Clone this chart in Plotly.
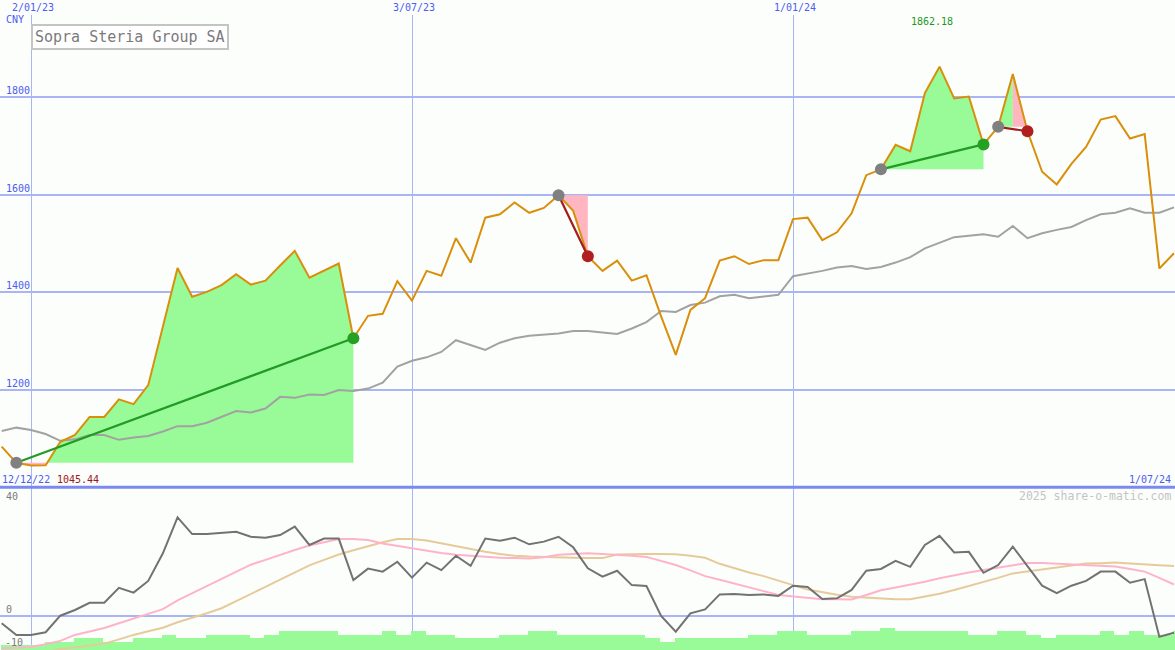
import pandas as pd
import plotly.graph_objects as go

# ---------------- data ----------------
dates = pd.date_range("2022-12-19", periods=81, freq="7D")

price = [1084, 1051, 1045.44, 1046, 1094, 1108, 1145, 1145, 1181, 1171,
         1210, 1330, 1450, 1391, 1401, 1415, 1437, 1416, 1424, 1455,
         1485, 1430, 1445, 1459, 1306, 1352, 1356, 1423, 1383, 1444,
         1434, 1511, 1461, 1553, 1560, 1584, 1563, 1573, 1599, 1567,
         1474, 1444, 1465, 1424, 1435, 1351, 1272, 1364, 1388, 1465,
         1474, 1458, 1466, 1466, 1550, 1553, 1507, 1523, 1562, 1640,
         1652, 1702, 1689, 1808, 1862.18, 1797, 1801, 1703, 1739, 1847,
         1730, 1647, 1621, 1663, 1698, 1754, 1761, 1715, 1724, 1449,
         1480]

moving_avg = [1116, 1123, 1118, 1110, 1096, 1099, 1108, 1108, 1098, 1103,
              1106, 1115, 1126, 1126, 1133, 1145, 1157, 1154, 1162, 1186,
              1184, 1191, 1190, 1200, 1198, 1203, 1215, 1248, 1260, 1267,
              1278, 1302, 1292, 1282, 1297, 1306, 1311, 1313, 1316, 1321,
              1321, 1318, 1315, 1326, 1339, 1362, 1360, 1374, 1379, 1392,
              1395, 1388, 1391, 1395, 1433, 1438, 1444, 1451, 1454, 1448,
              1452, 1461, 1472, 1490, 1502, 1513, 1516, 1519, 1514, 1536,
              1511, 1521, 1528, 1534, 1548, 1560, 1563, 1572, 1563, 1563,
              1574]

momentum = [-2.5, -6.4, -6.4, -5.5, 0, 1.9, 4.3, 4.3, 9.3, 7.7,
            11.6, 20.8, 32.8, 27.2, 27.2, 27.7, 28, 26.3, 26, 26.9,
            29.7, 23.6, 25.7, 25.7, 11.9, 15.7, 14.7, 18, 12.7, 17.7,
            15.2, 20, 16.6, 25.7, 25, 26, 23.8, 24.7, 26.3, 22.8,
            15.8, 13, 15, 10.2, 9.9, -0.1, -5.3, 0.8, 2.1, 7.1,
            7.2, 6.9, 7.1, 6.6, 10, 9.6, 5.6, 5.8, 8.6, 15,
            15.6, 18.3, 16.3, 23.6, 26.6, 21.1, 21.3, 14.3, 16.9, 23,
            16.6, 10, 7.5, 10, 11.6, 14.7, 14.7, 11, 12.2, -7,
            -5.7]

signal_fast = [-10.9, -10.7, -10.4, -9.5, -8.4, -6.4, -5.2, -4.1, -2.5, -0.9,
               0.6, 2.2, 5.1, 7.5, 9.7, 12.1, 14.7, 17.0, 18.6, 20.3,
               21.9, 23.4, 24.6, 25.6, 25.6, 25.2, 24.1, 23.3, 22.5, 21.6,
               20.9, 20.3, 19.9, 19.5, 19.3, 19.2, 19.1, 19.5, 20.3, 20.6,
               20.8, 20.6, 20.4, 20.0, 19.6, 18.2, 16.9, 15.1, 13.2, 12.0,
               10.8, 9.6, 8.2, 6.9, 6.4, 5.9, 5.5, 5.5, 5.4, 6.9,
               8.5, 9.4, 10.3, 11.3, 12.5, 13.5, 14.4, 15.2, 16.0, 16.8,
               17.6, 17.6, 17.4, 17.2, 17.0, 16.8, 16.4, 15.6, 14.7, 12.6,
               10.4]

signal_slow = [-15, -14, -13, -12, -11.1, -10.6, -10.0, -9.3, -7.9, -6.4,
               -5.2, -4.0, -2.2, -0.8, 0.8, 2.5, 4.8, 7.2, 9.6, 12.0,
               14.4, 16.8, 18.6, 20.4, 21.8, 23.2, 24.5, 25.6, 25.6, 25.1,
               24.1, 23.1, 22.2, 21.3, 20.6, 20.0, 19.7, 19.5, 19.3, 19.3,
               19.2, 19.2, 20.4, 20.6, 20.6, 20.6, 20.5, 20.0, 19.3, 17.3,
               15.8, 14.4, 13.2, 11.8, 10.2, 8.7, 7.8, 7.0, 6.3, 6.0,
               5.6, 5.5, 5.5, 6.4, 7.3, 8.6, 9.9, 11.2, 12.6, 14.1,
               14.8, 15.4, 16.1, 16.8, 17.4, 17.5, 17.7, 17.4, 17.0, 16.8,
               16.6]

volume = [1.8, 1.8, 1.8, 2.8, 2.8, 4.1, 4.1, 2.8, 2.8, 4.1,
          4.1, 5.0, 4.1, 4.1, 5.0, 5.0, 5.0, 4.1, 5.0, 6.3,
          6.3, 6.3, 6.3, 5.0, 5.0, 5.0, 6.3, 5.0, 6.3, 5.0,
          5.0, 4.1, 4.1, 4.1, 5.0, 5.0, 6.3, 6.3, 5.0, 5.0,
          5.0, 5.0, 5.0, 5.0, 4.1, 2.8, 4.1, 4.1, 4.1, 4.1,
          4.1, 5.0, 5.0, 6.3, 6.3, 5.0, 5.0, 5.0, 6.3, 6.3,
          7.4, 6.3, 6.3, 6.3, 6.3, 6.3, 5.0, 5.0, 6.3, 6.3,
          5.0, 4.1, 5.0, 5.0, 5.0, 6.3, 5.0, 6.3, 5.0, 5.0,
          6.3]

trade_entry = [1, 38, 60, 68]
trade_exit = [24, 40, 67, 70]

title_text = "Sopra Steria Group SA"
currency = "CNY"
date_ticks = ["2023-01-02", "2023-07-03", "2024-01-01"]
date_tick_text = ["2/01/23", "3/07/23", "1/01/24"]
price_ticks = [1200, 1400, 1600, 1800]
start_label = "12/12/22"
end_label = "1/07/24"

# ---------------- style / geometry ----------------
W, H = 1175, 650
TOP = 15
BG = "#fcfefc"
GRID = "#a9b5f5"
BLUE_TXT = "#4c5cf0"
FONT = "DejaVu Sans Mono"
GREEN_FILL = "#98fb98"
PINK_FILL = "#ffb6c1"

px_per_day = (412 - 31) / 182.0
x_start = pd.Timestamp("2023-01-02") - pd.Timedelta(days=31 / px_per_day)
x_end = x_start + pd.Timedelta(days=W / px_per_day)

main_range = [1000, 1968]
low_range = [-11.43, 42.57]


def py(p):
    return 1 - (p - TOP) / (H - TOP)


def px(p):
    return p / W


main_dom = [py(487.7), 1.0]
low_dom = [0.0, py(488)]

fig = go.Figure()

# ---------------- trade fills ----------------
tnum = [d.value for d in dates]


def interp_date(a, b, t):
    return pd.Timestamp(int(tnum[a] + (tnum[b] - tnum[a]) * t))


green_x, green_y, pink_x, pink_y = [], [], [], []
for e, x in zip(trade_entry, trade_exit):
    level = price[e]
    loss = price[x] < price[e]
    seg = list(range(e, x + 1))
    peak = max(seg, key=lambda k: price[k])
    pts = []
    for k in range(e, x):
        ya, yb = price[k], price[k + 1]
        pts.append((dates[k], ya, k))
        if (ya - level) * (yb - level) < 0:
            t = (level - ya) / (yb - ya)
            pts.append((interp_date(k, k + 1, t), level, k + t))
    pts.append((dates[x], price[x], x))
    for (xa, ya, ka), (xb, yb, kb) in zip(pts[:-1], pts[1:]):
        below = (ya + yb) / 2 < level
        pink = below or (loss and ka >= peak)
        poly_x = [xa, xa, xb, xb, xa, None]
        poly_y = [level, ya, yb, level, level, None]
        if pink:
            pink_x += poly_x
            pink_y += poly_y
        else:
            green_x += poly_x
            green_y += poly_y

fig.add_trace(go.Scatter(x=green_x, y=green_y, fill="toself", fillcolor=GREEN_FILL,
                         mode="lines", line=dict(width=0, color=GREEN_FILL),
                         hoverinfo="skip", showlegend=False))
fig.add_trace(go.Scatter(x=pink_x, y=pink_y, fill="toself", fillcolor=PINK_FILL,
                         mode="lines", line=dict(width=0, color=PINK_FILL),
                         hoverinfo="skip", showlegend=False))

# ---------------- main lines ----------------
fig.add_trace(go.Scatter(x=dates, y=moving_avg, mode="lines",
                         line=dict(color="#a2a2a2", width=2), showlegend=False))
fig.add_trace(go.Scatter(x=dates, y=price, mode="lines",
                         line=dict(color="#d98f0b", width=2), showlegend=False))

for e, x in zip(trade_entry, trade_exit):
    win = price[x] >= price[e]
    col = "#239a23" if win else "#a11c1c"
    fig.add_trace(go.Scatter(x=[dates[e], dates[x]], y=[price[e], price[x]],
                             mode="lines", line=dict(color=col, width=2.2),
                             showlegend=False))
    fig.add_trace(go.Scatter(x=[dates[e]], y=[price[e]], mode="markers",
                             marker=dict(size=12, color="#808080"), showlegend=False))
    fig.add_trace(go.Scatter(x=[dates[x]], y=[price[x]], mode="markers",
                             marker=dict(size=12, color=("#25a025" if win else "#b01e1e")),
                             showlegend=False))

# ---------------- lower panel ----------------
bar_x = [d + pd.Timedelta(days=3) for d in dates]
fig.add_trace(go.Bar(x=bar_x, y=volume, base=low_range[0], width=7 * 86400000,
                     marker=dict(color=GREEN_FILL, line=dict(width=0)),
                     xaxis="x2", yaxis="y2", showlegend=False))
fig.add_trace(go.Scatter(x=dates, y=signal_slow, mode="lines",
                         line=dict(color="#e6cb9a", width=2), xaxis="x2", yaxis="y2",
                         showlegend=False))
fig.add_trace(go.Scatter(x=dates, y=signal_fast, mode="lines",
                         line=dict(color="#ffb3c9", width=2), xaxis="x2", yaxis="y2",
                         showlegend=False))
fig.add_trace(go.Scatter(x=dates, y=momentum, mode="lines",
                         line=dict(color="#727272", width=2), xaxis="x2", yaxis="y2",
                         showlegend=False))

# ---------------- axes ----------------
xcommon = dict(type="date", range=[x_start, x_end], tickvals=date_ticks,
               showticklabels=False, showgrid=True, gridcolor=GRID, gridwidth=1,
               zeroline=False, showline=False, ticks="")
fig.update_layout(
    width=W, height=H,
    margin=dict(l=0, r=0, t=TOP, b=0),
    paper_bgcolor=BG, plot_bgcolor=BG,
    bargap=0,
    xaxis=dict(domain=[0, 1], anchor="y", **xcommon),
    yaxis=dict(domain=main_dom, range=main_range, tickvals=price_ticks,
               showticklabels=False, showgrid=True, gridcolor=GRID, gridwidth=2,
               zeroline=False, showline=False, ticks=""),
    xaxis2=dict(domain=[0, 1], anchor="y2", **xcommon),
    yaxis2=dict(domain=low_dom, range=low_range, tickvals=[0],
                showticklabels=False, showgrid=True, gridcolor=GRID, gridwidth=2,
                zeroline=False, showline=False, ticks=""),
    showlegend=False,
)

# separator between panels
fig.add_shape(type="line", xref="paper", yref="paper", x0=0, x1=1,
              y0=py(487.3), y1=py(487.3), line=dict(color="#7b8af0", width=3))

# ---------------- text ----------------
def label(text, x, y, color, size=10, xanchor="center", yanchor="middle", **kw):
    fig.add_annotation(text=text, x=x, y=y, xref="paper", yref="paper",
                       showarrow=False, xanchor=xanchor, yanchor=yanchor,
                       font=dict(family=FONT, size=size, color=color), **kw)

for d, t in zip(date_ticks, date_tick_text):
    fig.add_annotation(text=t, x=d, y=py(8), xref="x", yref="paper", showarrow=False,
                       xanchor="center", yanchor="middle", xshift=2,
                       font=dict(family=FONT, size=10, color=BLUE_TXT))

label(currency, px(4), py(20), BLUE_TXT, xanchor="left")
for v in price_ticks:
    fig.add_annotation(text=str(v), x=px(4), y=v, xref="paper", yref="y",
                       showarrow=False, xanchor="left", yanchor="bottom", yshift=-1,
                       font=dict(family=FONT, size=10, color=BLUE_TXT))

imax = price.index(max(price))
fig.add_annotation(text=f"{max(price):.2f}", x=dates[imax], y=py(21), xref="x",
                   yref="paper", showarrow=False, xanchor="center", yanchor="middle",
                   xshift=-8, font=dict(family=FONT, size=10, color="#1e961e"))

label(title_text, px(130), py(37), "#7a7a7a", size=15,
      bordercolor="#c4c4c4", borderwidth=2, borderpad=2, bgcolor="#ffffff")

label(start_label, px(0), py(479), BLUE_TXT, xanchor="left")
label(f"{min(price):.2f}", px(55), py(479), "#a01616", xanchor="left")
label(end_label, px(1173), py(479), BLUE_TXT, xanchor="right")
label("2025 share-o-matic.com", px(1173), py(496), "#c4c4c4", size=11.5,
      xanchor="right")

label("40", px(4), py(496), "#7a7a7a", xanchor="left")
label("0", px(4), py(609), "#7a7a7a", xanchor="left")
label("-10", px(3), py(642), "#7a7a7a", xanchor="left")

fig.write_html(
    "out.html",
    config={"displayModeBar": False},
    post_script="document.body.style.margin='0';document.body.style.overflow='hidden';",
)
